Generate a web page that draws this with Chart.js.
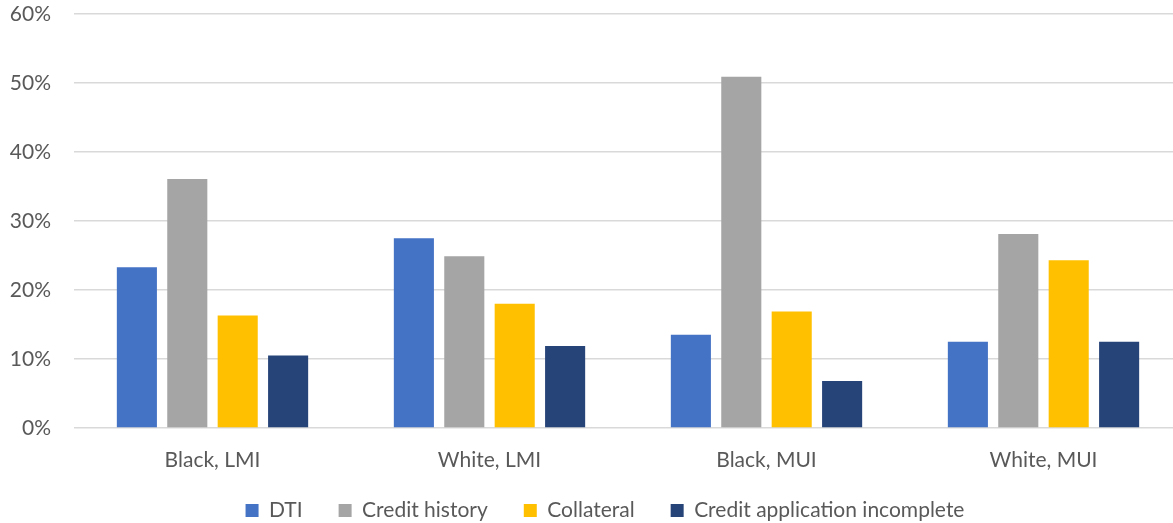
<!DOCTYPE html>
<html>
<head>
<meta charset="utf-8">
<script src="https://cdn.jsdelivr.net/npm/chart.js@4/dist/chart.umd.min.js"></script>
<style>
  html, body { margin: 0; padding: 0; background: #fff; overflow: hidden; }
  #wrap { position: relative; width: 1182px; height: 523px; }
</style>
</head>
<body>
<div id="wrap"><canvas id="chart"></canvas></div>
<script>
const categories = ['Black, LMI', 'White, LMI', 'Black, MUI', 'White, MUI'];
const dti = [23.3, 27.5, 13.5, 12.5];
const creditHistory = [36.1, 24.9, 50.9, 28.1];
const collateral = [16.3, 18.0, 16.9, 24.3];
const incomplete = [10.5, 11.9, 6.8, 12.5];
const yTicks = [0, 10, 20, 30, 40, 50, 60];

const font = "Lato, 'Open Sans', sans-serif";
const textColor = '#595959';

// x labels sit below a short axis box, so widen the label clip area;
// nudge the legend a bit right like the original
const layoutTweaks = {
    id: 'layoutTweaks',
    afterLayout(chart) {
        chart.scales.x.bottom += 40;
        chart.legend.left += 14;
        chart.legend.right += 14;
    }
};

const ctx = document.getElementById('chart').getContext('2d');
new Chart(ctx, {
    type: 'bar',
    data: {
        labels: categories,
        datasets: [
            { label: 'DTI', data: dti, backgroundColor: '#4472C4' },
            { label: 'Credit history', data: creditHistory, backgroundColor: '#A5A5A5' },
            { label: 'Collateral', data: collateral, backgroundColor: '#FFC000' },
            { label: 'Credit application incomplete', data: incomplete, backgroundColor: '#264478' }
        ]
    },
    options: {
        responsive: true,
        maintainAspectRatio: false,
        animation: false,
        datasets: {
            bar: { barPercentage: 0.795, categoryPercentage: 0.728 }
        },
        layout: { padding: { top: 14, left: 0, right: 0, bottom: -8 } },
        scales: {
            x: {
                grid: { display: false },
                border: { display: false },
                ticks: {
                    color: textColor,
                    font: { family: font, size: 21 },
                    padding: 12
                },
                afterFit: scale => { scale.height = 36; }
            },
            y: {
                min: 0,
                max: 60,
                afterBuildTicks: scale => { scale.ticks = yTicks.map(v => ({ value: v })); },
                grid: { color: '#d9d9d9', lineWidth: 1.5, drawTicks: false },
                border: { display: false },
                ticks: {
                    color: textColor,
                    font: { family: font, size: 21 },
                    padding: 23,
                    callback: v => v + '%'
                },
                afterFit: scale => {
                    scale.width = 74;
                    scale.paddingTop = 0;
                    scale.paddingBottom = 0;
                }
            }
        },
        plugins: {
            tooltip: { enabled: false },
            legend: {
                position: 'bottom',
                labels: {
                    color: textColor,
                    font: { family: font, size: 21 },
                    boxWidth: 13,
                    boxHeight: 13,
                    padding: 36
                }
            }
        }
    },
    plugins: [layoutTweaks]
});
</script>
</body>
</html>
